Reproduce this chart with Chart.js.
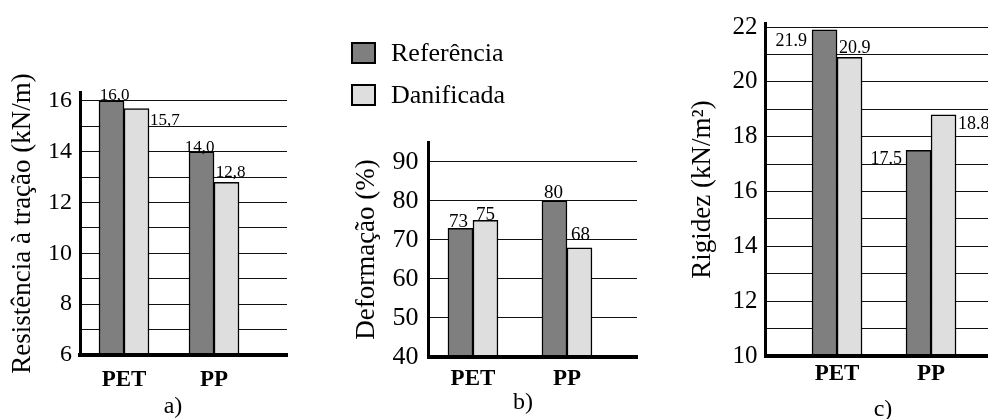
<!DOCTYPE html>
<html>
<head>
<meta charset="utf-8">
<script src="https://cdn.jsdelivr.net/npm/chart.js@4"></script>
<style>
  body { margin: 0; background: #fff; }
  #page { position: relative; width: 988px; height: 419px; overflow: hidden; font-family: "Liberation Serif", "Times New Roman", serif; color: #000; }
  .panel { position: absolute; top: 0; height: 419px; }
  .tag { position: absolute; font-size: 24px; line-height: 24px; transform: translate(-50%, -50%); }
  .legend-row { position: absolute; left: 351px; display: flex; align-items: center; font-size: 26px; line-height: 26px; }
  .swatch { width: 21px; height: 18px; border: 2px solid #000; margin-right: 15px; }
</style>
</head>
<body>
<div id="page">
  <div class="panel" style="left:0;width:300px"><canvas id="chartA"></canvas></div>
  <div class="panel" style="left:340px;width:300px"><canvas id="chartB"></canvas></div>
  <div class="panel" style="left:680px;width:308px"><canvas id="chartC"></canvas></div>
  <div id="legend"></div>
  <div class="tag" style="left:173px;top:405px">a)</div>
  <div class="tag" style="left:523px;top:401px">b)</div>
  <div class="tag" style="left:883px;top:408px">c)</div>
</div>
<script>
const categories = ["PET", "PP"];
const seriesNames = ["Referência", "Danificada"];

// a) resistência à tração (kN/m)
const resistRef = [16.0, 14.0];
const resistDan = [15.7, 12.8];
// b) deformação (%)
const deformRef = [73, 80];
const deformDan = [75, 68];
// c) rigidez (kN/m2)
const rigidRef = [21.9, 17.5];
const rigidDan = [20.9, 18.8];

const darkGrey = "#7f7f7f";
const lightGrey = "#dedede";

Chart.defaults.font.family = '"Liberation Serif", "Times New Roman", serif';
Chart.defaults.color = "#000";

// legend built from the series names
const legend = document.getElementById("legend");
seriesNames.forEach((name, i) => {
  const row = document.createElement("div");
  row.className = "legend-row";
  row.style.top = (40 + i * 42) + "px";
  row.innerHTML = `<div class="swatch" style="background:${i === 0 ? darkGrey : lightGrey}"></div><span>${name}</span>`;
  legend.appendChild(row);
});

// draws the number next to each bar
const valueLabels = {
  id: "valueLabels",
  afterDatasetsDraw(chart, args, opts) {
    const ctx = chart.ctx;
    ctx.save();
    ctx.font = `${opts.size}px "Liberation Serif", serif`;
    ctx.fillStyle = "#000";
    ctx.textBaseline = "alphabetic";
    chart.data.datasets.forEach((ds, di) => {
      chart.getDatasetMeta(di).data.forEach((bar, i) => {
        const p = opts.place[di][i];
        const half = bar.width / 2;
        let x = bar.x;
        if (p.at === "left") x -= half;
        if (p.at === "right") x += half;
        ctx.textAlign = p.align;
        ctx.fillText(opts.format(ds.data[i].y), x + p.dx, bar.y + p.dy);
      });
    });
    ctx.restore();
  }
};

function barChart(id, cfg) {
  return new Chart(document.getElementById(id), {
    type: "bar",
    data: {
      datasets: [
        { label: seriesNames[0], data: cfg.ref.map((v, i) => ({ x: i, y: v })), backgroundColor: darkGrey },
        { label: seriesNames[1], data: cfg.dan.map((v, i) => ({ x: i, y: v })), backgroundColor: lightGrey }
      ]
    },
    options: {
      responsive: true,
      maintainAspectRatio: false,
      animation: false,
      events: [],
      layout: { padding: { top: cfg.top, right: cfg.right, left: 0, bottom: 0 } },
      datasets: { bar: { barThickness: 25, borderWidth: 1.5, borderColor: "#000" } },
      plugins: {
        legend: { display: false },
        tooltip: { enabled: false },
        valueLabels: { size: cfg.labelSize, place: cfg.place, format: cfg.format }
      },
      scales: {
        x: {
          type: "linear",
          offset: false,
          min: cfg.xMin,
          max: cfg.xMax,
          grid: { display: false, offset: false },
          border: { display: true, width: 4, color: "#000", z: 1 },
          ticks: { autoSkip: false, maxRotation: 0, padding: cfg.xPad, font: { size: 23, weight: "bold" }, callback: v => categories[v] },
          afterBuildTicks: s => { s.ticks = categories.map((c, i) => ({ value: i })); },
          afterFit: s => { s.height = cfg.xHeight; }
        },
        y: {
          min: cfg.yMin,
          max: cfg.yMax,
          ticks: {
            stepSize: cfg.step,
            autoSkip: false,
            includeBounds: false,
            padding: cfg.tickPad,
            font: { size: cfg.tickSize },
            callback: cfg.tickLabel
          },
          grid: { color: "#111", lineWidth: 1, drawTicks: false },
          border: { display: true, width: 3, color: "#000", z: 1 },
          title: { display: true, text: cfg.yTitle, font: { size: 27 }, padding: { top: cfg.titlePad, bottom: 0 } },
          afterFit: s => { s.width = cfg.yWidth; }
        }
      }
    },
    plugins: [valueLabels]
  });
}

barChart("chartA", {
  ref: resistRef, dan: resistDan,
  yTitle: "Resistência à tração (kN/m)",
  yMin: 6, yMax: 16.35, step: 1,
  tickLabel: v => (v % 2 === 0 ? v : ""),
  tickSize: 24, tickPad: 8, titlePad: 7, xPad: 3,
  xMin: -0.489, xMax: 1.811,
  top: 92, right: 13, yWidth: 80, xHeight: 64,
  labelSize: 17,
  format: v => v.toFixed(1).replace(".", ","),
  place: [
    [{ at: "center", align: "center", dx: 3, dy: -1 }, { at: "center", align: "center", dx: -2, dy: 0 }],
    [{ at: "right", align: "left", dx: 1, dy: 16 }, { at: "center", align: "center", dx: 4, dy: -5 }]
  ]
});

barChart("chartB", {
  ref: deformRef, dan: deformDan,
  yTitle: "Deformação (%)",
  yMin: 40, yMax: 95.1, step: 10,
  tickLabel: v => v,
  tickSize: 26, tickPad: 10, titlePad: 11, xPad: 0,
  xMin: -0.473, xMax: 1.745,
  top: 142, right: 3, yWidth: 88.5, xHeight: 62,
  labelSize: 19,
  format: v => String(v),
  place: [
    [{ at: "center", align: "center", dx: -2, dy: -1 }, { at: "center", align: "center", dx: -1, dy: -3 }],
    [{ at: "center", align: "center", dx: 0, dy: 0 }, { at: "center", align: "center", dx: 1, dy: -8 }]
  ]
});

barChart("chartC", {
  ref: rigidRef, dan: rigidDan,
  yTitle: "Rigidez (kN/m²)",
  yMin: 10, yMax: 22.15, step: 1,
  tickLabel: v => (v % 2 === 0 ? v : ""),
  tickSize: 25, tickPad: 8, titlePad: 7, xPad: -4,
  xMin: -0.761, xMax: 1.606,
  top: 23, right: 0, yWidth: 85.5, xHeight: 63,
  labelSize: 18,
  format: v => v.toFixed(1),
  place: [
    [{ at: "left", align: "right", dx: -5, dy: 16 }, { at: "left", align: "right", dx: -4, dy: 14 }],
    [{ at: "left", align: "left", dx: 2, dy: -4 }, { at: "right", align: "left", dx: 2, dy: 14 }]
  ]
});
</script>
</body>
</html>
